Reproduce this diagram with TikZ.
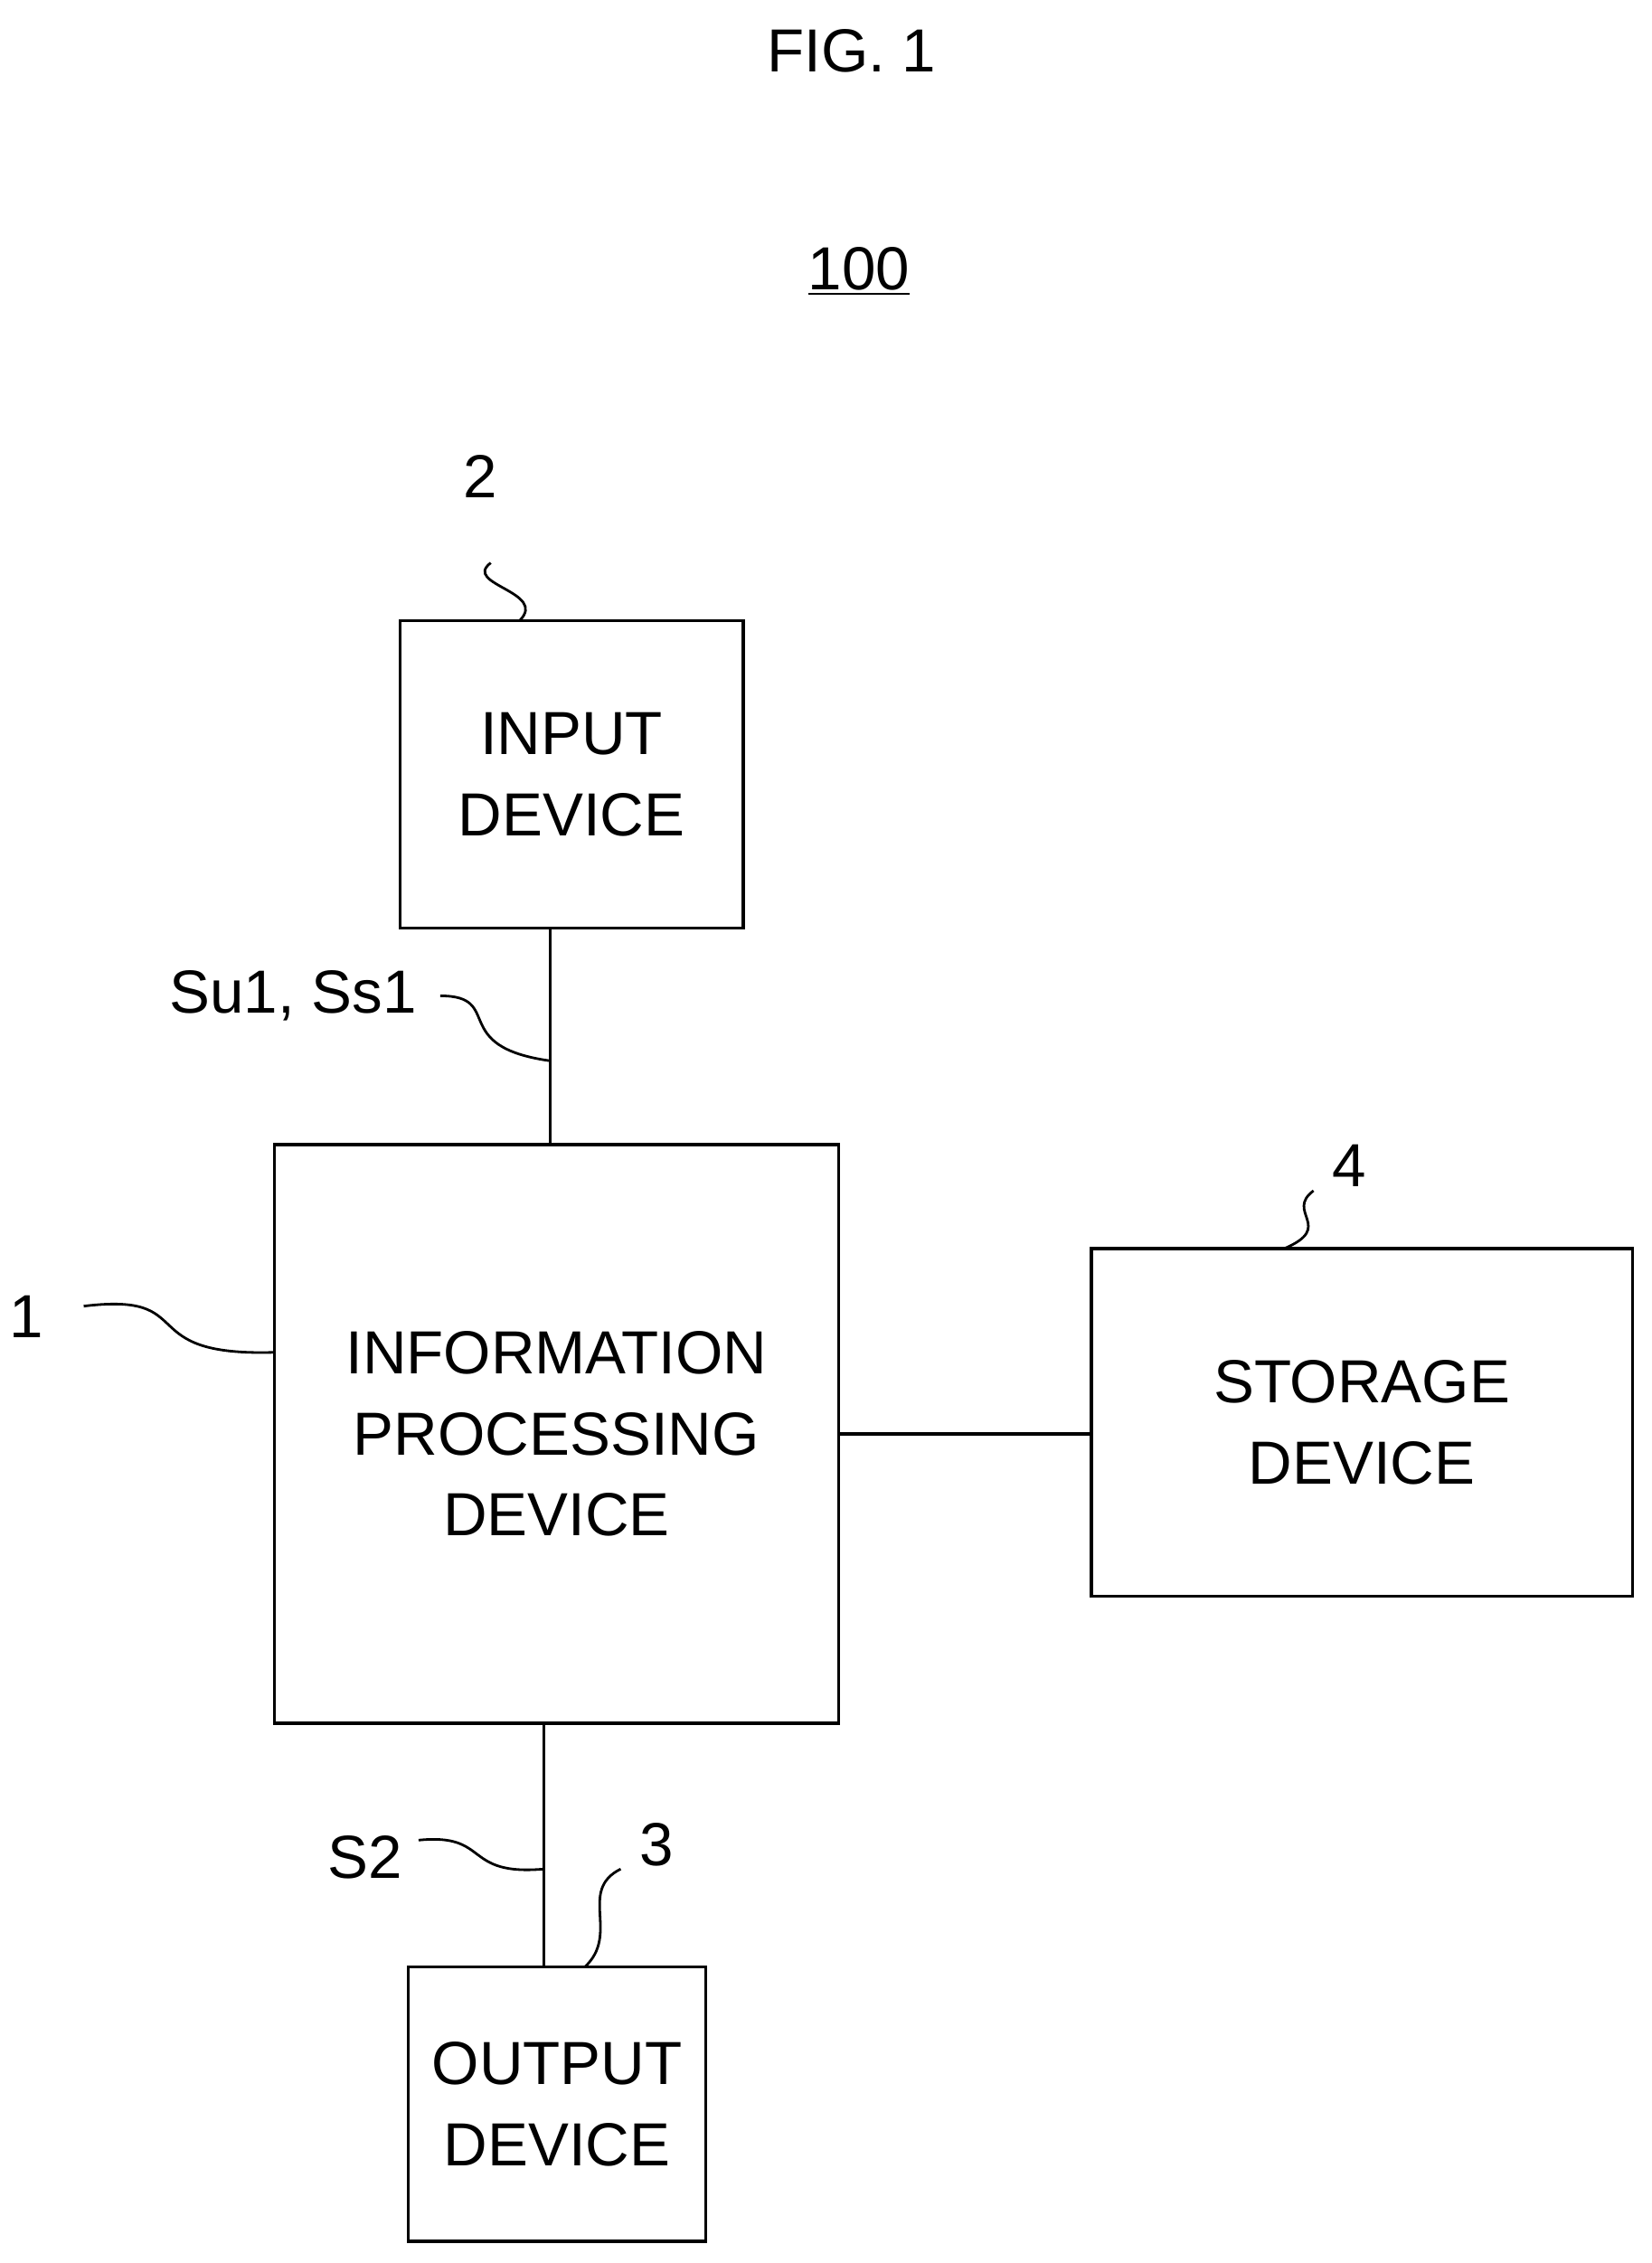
\documentclass[tikz,border=0pt]{standalone}
\usepackage{fontspec}
\setmainfont{Liberation Sans}
\usetikzlibrary{positioning}
\tikzset{
box/.style={draw, line width=1.2pt, align=center, inner sep=0pt,
  font=\fontsize{24}{32}\selectfont},
lbl/.style={font=\fontsize{24}{28}\selectfont, inner sep=1pt},
wave/.style={line width=1pt},
}
\begin{document}
\begin{tikzpicture}[x=0.02cm, y=-0.02cm]
  \useasboundingbox (0,0) rectangle (1144,1568);
  \node [lbl] (fig) at (590,35) {FIG. 1};
  \node [lbl] (sys) at (595,188) {\underline{100}};

  \node [box, minimum width=4.76cm, minimum height=4.26cm] (input) at (396,536.5) {INPUT\\DEVICE};
  \node [box, minimum width=7.82cm, minimum height=8.02cm] (info) at (385.5,993.5) {INFORMATION\\PROCESSING\\DEVICE};
  \node [box, minimum width=7.5cm, minimum height=4.82cm] (storage) at (943.5,985.5) {STORAGE\\DEVICE};
  \node [box, minimum width=4.12cm, minimum height=3.8cm] (output) at (386,1458) {OUTPUT\\DEVICE};

  % connections
  \draw [line width=1.2pt] ([xshift=-0.3cm]input.south) -- ([xshift=-0.3cm]input.south |- info.north);
  \draw [line width=1.2pt] (info.east) -- (info.east -| storage.west);
  \draw [line width=1.2pt] ([xshift=-0.17cm]info.south) -- ([xshift=-0.17cm]info.south |- output.north);

  % reference labels
  \node [lbl] (n2) at (333,330) {2};
  \node [lbl] (nsu) at (203,690) {Su1, Ss1};
  \node [lbl] (n1) at (18,912) {1};
  \node [lbl] (n4) at (935,808) {4};
  \node [lbl] (ns2) at (253,1287) {S2};
  \node [lbl] (n3) at (455,1278) {3};

  \coordinate (w2) at (360,430);
  \coordinate (wsu) at (381,735);
  \coordinate (w1) at (190,937);
  \coordinate (w4) at (890,865);
  \coordinate (ws2) at (377,1295);
  \coordinate (w3) at (405,1363);

  \draw [wave] (340,390) .. controls (320,405) and (380,410) .. (w2);
  \draw [wave] (305,690) .. controls (350,690) and (310,725) .. (wsu);
  \draw [wave] (58,905) .. controls (140,895) and (90,940) .. (w1);
  \draw [wave] (910,825) .. controls (890,840) and (925,850) .. (w4);
  \draw [wave] (290,1275) .. controls (340,1270) and (320,1300) .. (ws2);
  \draw [wave] (430,1295) .. controls (400,1310) and (430,1340) .. (w3);
\end{tikzpicture}
\end{document}
